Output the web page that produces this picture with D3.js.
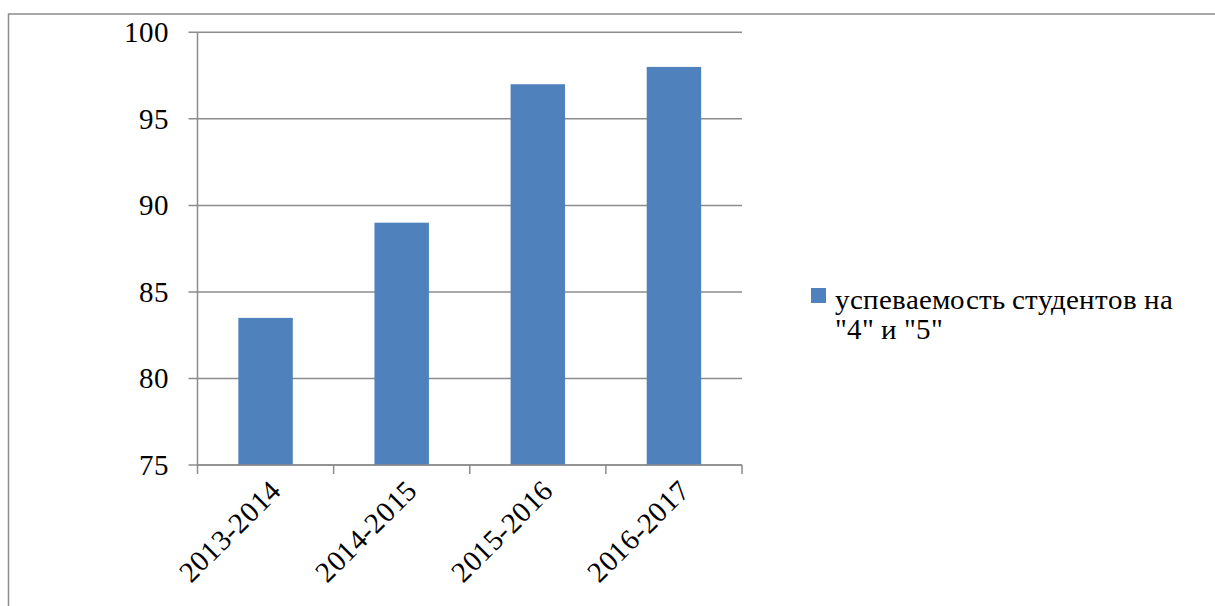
<!DOCTYPE html>
<html>
<head>
<meta charset="utf-8">
<script src="https://cdn.jsdelivr.net/npm/d3@7"></script>
<style>
  @font-face {
    font-family: "ChartSerif";
    src: local("Liberation Serif"), local("LiberationSerif"), local("LiberationSerif-Regular"), local("Times New Roman"), local("Tinos");
  }
  body { margin: 0; background: #fff; }
  #chart text { font-family: "ChartSerif", "Liberation Serif" !important; font-size: 29px !important; fill: #000; }
</style>
</head>
<body>
<svg id="chart" width="1215" height="606"></svg>
<script>
// Academic years and share of students graded "4" and "5"
const categories = ["2013-2014", "2014-2015", "2015-2016", "2016-2017"];
const values = [83.5, 89, 97, 98];
const yTicks = [75, 80, 85, 90, 95, 100];
const seriesName = ["успеваемость студентов на", "\"4\" и \"5\""];

const svg = d3.select("#chart");
const gridColor = "#8c8c8c";
const barColor = "#4f81bd";

// outer chart frame (runs off the right and bottom edges)
svg.append("rect")
  .attr("x", 8.5).attr("y", 14)
  .attr("width", 1215).attr("height", 620)
  .attr("fill", "none").attr("stroke", gridColor).attr("stroke-width", 1.5);

const plot = { left: 197.5, right: 742, top: 32.3, bottom: 465 };

const x = d3.scaleBand()
  .domain(categories)
  .range([plot.left, plot.right])
  .paddingInner(0.6).paddingOuter(0.3);

const y = d3.scaleLinear()
  .domain([75, 100])
  .range([plot.bottom, plot.top]);

// horizontal gridlines
svg.append("g").selectAll("line")
  .data(yTicks)
  .join("line")
  .attr("x1", plot.left - 9).attr("x2", plot.right)
  .attr("y1", d => y(d)).attr("y2", d => y(d))
  .attr("stroke", gridColor).attr("stroke-width", 1.5);

// value labels on the left
svg.selectAll("text.ylab")
  .data(yTicks)
  .join("text").attr("class", "ylab")
  .attr("x", plot.left - 29)
  .attr("y", d => y(d) + 10)
  .attr("text-anchor", "end")
  .text(d => d);

// vertical value axis line
svg.append("line")
  .attr("x1", plot.left).attr("x2", plot.left)
  .attr("y1", plot.top).attr("y2", plot.bottom)
  .attr("stroke", gridColor).attr("stroke-width", 1.5);

// bars
svg.append("g").selectAll("rect")
  .data(values)
  .join("rect")
  .attr("x", (d, i) => x(categories[i]))
  .attr("y", d => y(d))
  .attr("width", x.bandwidth())
  .attr("height", d => y(75) - y(d))
  .attr("fill", barColor);

// category axis with boundary ticks
const bounds = categories.map((c, i) => plot.left + i * (plot.right - plot.left) / categories.length)
  .concat([plot.right]);
svg.append("line")
  .attr("x1", plot.left).attr("x2", plot.right)
  .attr("y1", plot.bottom).attr("y2", plot.bottom)
  .attr("stroke", gridColor).attr("stroke-width", 1.5);
svg.append("g").selectAll("line")
  .data(bounds)
  .join("line")
  .attr("x1", d => d).attr("x2", d => d)
  .attr("y1", plot.bottom).attr("y2", plot.bottom + 9)
  .attr("stroke", gridColor).attr("stroke-width", 1.5);

// rotated category labels
svg.selectAll("text.xlab")
  .data(categories)
  .join("text").attr("class", "xlab")
  .attr("transform", d => `translate(${x(d) + x.bandwidth() / 2 + 10},${plot.bottom + 20}) rotate(-45)`)
  .attr("text-anchor", "end")
  .attr("dy", "0.35em")
  .text(d => d);

// legend
svg.append("rect")
  .attr("x", 811).attr("y", 288)
  .attr("width", 15).attr("height", 15).attr("fill", barColor);
svg.selectAll("text.leg")
  .data(seriesName)
  .join("text").attr("class", "leg")
  .attr("x", 835)
  .attr("y", (d, i) => 309 + i * 30)
  .text(d => d);
</script>
</body>
</html>
